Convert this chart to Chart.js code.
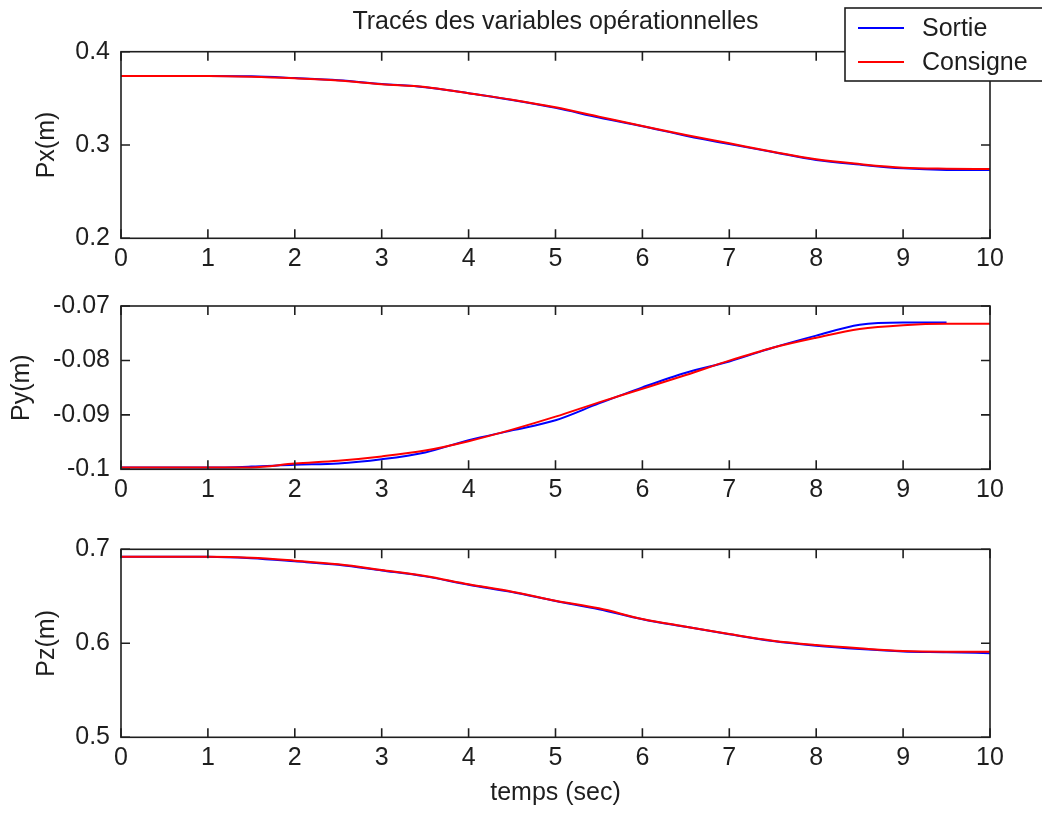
<!DOCTYPE html>
<html lang="fr">
<head>
<meta charset="utf-8">
<title>Tracés des variables opérationnelles</title>
<script src="https://cdn.jsdelivr.net/npm/chart.js@4.4.1/dist/chart.umd.min.js"></script>
<style>
  html, body { margin: 0; padding: 0; background: #fff; }
  .panel { position: absolute; left: 0; width: 1042px; }
</style>
</head>
<body>
<div class="panel" style="top:0;height:280px"><canvas id="pxChart"></canvas></div>
<div class="panel" style="top:280px;height:240px"><canvas id="pyChart"></canvas></div>
<div class="panel" style="top:520px;height:294px"><canvas id="pzChart"></canvas></div>
<script>
// temps d'échantillonnage (s)
const timeSec = [0, 0.5, 1, 1.5, 2, 2.5, 3, 3.5, 4, 4.5, 5, 5.5, 6, 6.5, 7, 7.5, 8, 8.5, 9, 9.5, 10];
const xTickValues = [0, 1, 2, 3, 4, 5, 6, 7, 8, 9, 10];

const seriesLabels = ["Sortie", "Consigne"];

// Px (m)
const pxConsigne = [0.3740, 0.3740, 0.3740, 0.3732, 0.3715, 0.3691, 0.3651, 0.3622, 0.3554, 0.3486, 0.3404,
  0.3304, 0.3204, 0.3107, 0.3018, 0.2928, 0.2847, 0.2796, 0.2757, 0.2746, 0.2743];
const pxSortie = [0.3740, 0.3740, 0.3740, 0.3736, 0.3717, 0.3694, 0.3655, 0.3620, 0.3555, 0.3482, 0.3398,
  0.3294, 0.3200, 0.3100, 0.3010, 0.2925, 0.2840, 0.2790, 0.2750, 0.2733, 0.2731];

// Py (m) - la sortie s'arrête avant 10 s
const pyConsigne = [-0.09968, -0.09968, -0.09968, -0.09965, -0.09895, -0.09842, -0.09763, -0.09655, -0.09483,
  -0.09271, -0.09033, -0.08770, -0.08521, -0.08268, -0.08003, -0.07766, -0.07582, -0.07423, -0.07353, -0.07328, -0.07328];
const pySortie = [-0.09968, -0.09968, -0.09968, -0.09950, -0.09916, -0.09895, -0.09816, -0.09690, -0.09465,
  -0.09285, -0.09100, -0.08790, -0.08494, -0.08225, -0.08019, -0.07766, -0.07544, -0.07344, -0.07301, -0.07301, null];

// Pz (m)
const pzConsigne = [0.6921, 0.6921, 0.6921, 0.6911, 0.6879, 0.6840, 0.6780, 0.6716, 0.6628, 0.6549, 0.6453,
  0.6372, 0.6259, 0.6177, 0.6099, 0.6028, 0.5982, 0.5947, 0.5918, 0.5911, 0.5911];
const pzSortie = [0.6921, 0.6921, 0.6921, 0.6905, 0.6872, 0.6835, 0.6775, 0.6712, 0.6622, 0.6545, 0.6450,
  0.6363, 0.6256, 0.6175, 0.6097, 0.6025, 0.5975, 0.5940, 0.5914, 0.5906, 0.5894];

const pxTicks = [0.2, 0.3, 0.4];
const pyTicks = [-0.1, -0.09, -0.08, -0.07];
const pzTicks = [0.5, 0.6, 0.7];

const ink = "#1e1e1e";
const txtFont = { family: '"Liberation Sans", Arial, sans-serif', size: 25 };

Chart.defaults.font.family = txtFont.family;
Chart.defaults.font.size = txtFont.size;
Chart.defaults.color = ink;

const toPoints = (vals) => timeSec.map((t, i) => ({ x: t, y: vals[i] }));
const fmtTick = (v) => String(+Number(v).toFixed(3));

// cadre fermé + graduations vers l'intérieur
const boxFrame = {
  id: "boxFrame",
  afterDatasetsDraw(chart) {
    const { ctx, chartArea: a, scales: { x, y } } = chart;
    const len = 9;
    ctx.save();
    ctx.strokeStyle = ink;
    ctx.lineWidth = 1.6;
    ctx.strokeRect(a.left, a.top, a.right - a.left, a.bottom - a.top);
    ctx.beginPath();
    x.ticks.forEach((t) => {
      const px = x.getPixelForValue(t.value);
      ctx.moveTo(px, a.bottom); ctx.lineTo(px, a.bottom - len);
      ctx.moveTo(px, a.top); ctx.lineTo(px, a.top + len);
    });
    y.ticks.forEach((t) => {
      const py = y.getPixelForValue(t.value);
      ctx.moveTo(a.left, py); ctx.lineTo(a.left + len, py);
      ctx.moveTo(a.right, py); ctx.lineTo(a.right - len, py);
    });
    ctx.stroke();
    ctx.restore();
  },
};

// légende encadrée en haut à droite
const boxLegend = {
  id: "boxLegend",
  afterDraw(chart, args, opts) {
    if (!opts.show) return;
    const { ctx } = chart;
    const x0 = 845, y0 = 8, h = 73;
    ctx.save();
    ctx.fillStyle = "#fff";
    ctx.fillRect(x0, y0, chart.width - x0 + 10, h);
    ctx.strokeStyle = ink;
    ctx.lineWidth = 1.6;
    ctx.strokeRect(x0, y0, chart.width - x0 + 10, h);
    ctx.font = `${txtFont.size}px ${txtFont.family}`;
    ctx.textBaseline = "middle";
    ctx.textAlign = "left";
    chart.data.datasets.forEach((ds, i) => {
      const ly = 28 + i * 34;
      ctx.strokeStyle = ds.borderColor;
      ctx.lineWidth = 2;
      ctx.beginPath();
      ctx.moveTo(858, ly); ctx.lineTo(904, ly);
      ctx.stroke();
      ctx.fillStyle = ink;
      ctx.fillText(ds.label, 922, ly + 1);
    });
    ctx.restore();
  },
};

function makePanel(id, cfg) {
  return new Chart(document.getElementById(id), {
    type: "line",
    data: {
      datasets: [
        { label: seriesLabels[0], data: toPoints(cfg.sortie), borderColor: "#0000ff", order: 1 },
        { label: seriesLabels[1], data: toPoints(cfg.consigne), borderColor: "#ff0000", order: 0 },
      ],
    },
    options: {
      responsive: true,
      maintainAspectRatio: false,
      animation: false,
      events: [],
      elements: {
        line: { borderWidth: 2, cubicInterpolationMode: "monotone", fill: false },
        point: { radius: 0 },
      },
      layout: { padding: { top: cfg.padTop, right: 52, bottom: 0, left: 0 } },
      plugins: {
        legend: { display: false },
        tooltip: { enabled: false },
        title: cfg.title
          ? { display: true, text: cfg.title, fullSize: false, color: ink, font: { size: 25, weight: "normal" }, padding: { top: 7, bottom: 14.7 } }
          : { display: false },
        boxLegend: { show: !!cfg.legend },
      },
      scales: {
        x: {
          type: "linear",
          min: 0,
          max: 10,
          afterBuildTicks: (s) => { s.ticks = xTickValues.map((v) => ({ value: v })); },
          afterFit: (s) => { s.height = cfg.xHeight; },
          grid: { display: false, drawTicks: false },
          border: { display: false },
          ticks: { padding: 6, autoSkip: false, maxRotation: 0, color: ink, callback: fmtTick },
          title: cfg.xTitle
            ? { display: true, text: cfg.xTitle, color: ink, padding: { top: 0, bottom: 6 } }
            : { display: false },
        },
        y: {
          min: cfg.ticks[0],
          max: cfg.ticks[cfg.ticks.length - 1],
          afterBuildTicks: (s) => { s.ticks = cfg.ticks.map((v) => ({ value: v })); },
          afterFit: (s) => { s.width = 121; },
          grid: { display: false, drawTicks: false },
          border: { display: false },
          ticks: { padding: 11, color: ink, callback: fmtTick },
          title: { display: true, text: cfg.yTitle, color: ink, padding: { top: cfg.yTitlePad, bottom: 0 } },
        },
      },
    },
    plugins: [boxFrame, boxLegend],
  });
}

makePanel("pxChart", {
  consigne: pxConsigne, sortie: pxSortie, ticks: pxTicks, yTitle: "Px(m)", yTitlePad: 32,
  padTop: 0, xHeight: 41.7, title: "Tracés des variables opérationnelles", legend: true,
});
makePanel("pyChart", {
  consigne: pyConsigne, sortie: pySortie, ticks: pyTicks, yTitle: "Py(m)", yTitlePad: 7,
  padTop: 20, xHeight: 50.7,
});
makePanel("pzChart", {
  consigne: pzConsigne, sortie: pzSortie, ticks: pzTicks, yTitle: "Pz(m)", yTitlePad: 32,
  padTop: 29.3, xHeight: 76.7, xTitle: "temps (sec)",
});
</script>
</body>
</html>
